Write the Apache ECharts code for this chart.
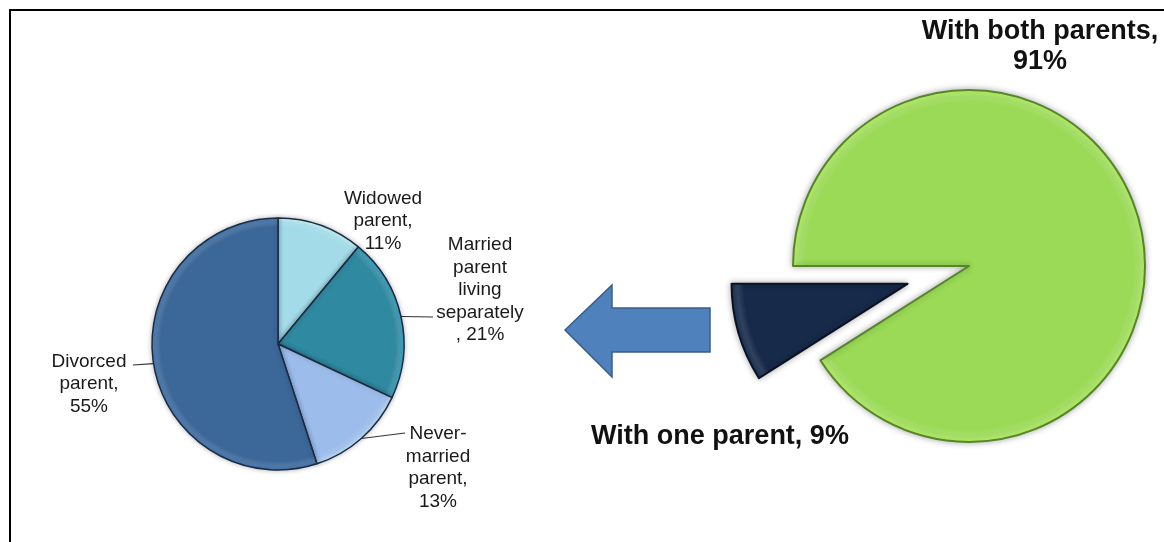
<!DOCTYPE html>
<html>
<head>
<meta charset="utf-8">
<title>Living arrangements of children</title>
<script src="https://cdn.jsdelivr.net/npm/echarts@6/dist/echarts.min.js"></script>
<style>
  html, body { margin: 0; padding: 0; background: #ffffff; }
  #chart { width: 1164px; height: 542px; }
</style>
</head>
<body>
<div id="chart"></div>
<script>
// Breakdown of children living with one parent
const oneParentTypes = ['Widowed\nparent', 'Married\nparent\nliving\nseparately', 'Never-\nmarried\nparent', 'Divorced\nparent'];
const oneParentShares = [11, 21, 13, 55];
// Text placed between the name and the percentage of each label
const oneParentJoiners = [',\n', '\n, ', ',\n', ',\n'];

// Overall split: both parents vs one parent
const householdTypes = ['With both parents', 'With one parent'];
const householdShares = [91, 9];
const householdJoiners = [',\n', ', '];

const FONT = '"Liberation Sans", Arial, Helvetica, sans-serif';

const smallColors = ['#A3DBE9', '#2F89A1', '#9CBDEB', '#3B6799'];
const bigColors = ['#9ADA56', '#172A4A'];
const bigBorders = ['#56852A', '#0A1322'];

// Where each breakdown label sits, and where its leader line ends
const smallLabelPos = [[383, 221], [480, 290], [438, 468], [89, 384]];
const smallLineEnd = [null, [433, 317], [405, 433], [133, 365]];
const bigLabelPos = [[1040, 47], [720, 437]];

const smallCenter = [278, 344];
const smallRadius = 126;

// Big pie geometry; the one-parent slice is pulled out along its mid-angle
const bigCenter = [969, 266];
const bigRadius = 176;
const explode = 64;

function midAngleDeg(values, idx, startDeg) {
  const total = values.reduce((a, b) => a + b, 0);
  let before = 0;
  for (let k = 0; k < idx; k++) before += values[k];
  const mid = before + values[idx] / 2;
  return startDeg - mid / total * 360; // clockwise from start
}
const navyMid = midAngleDeg(householdShares, 1, 180) * Math.PI / 180;
const navyCenter = [
  bigCenter[0] + explode * Math.cos(navyMid),
  bigCenter[1] - explode * Math.sin(navyMid)
];

// Soft bevel: flat fill with a lighter band just inside the rim and a darker edge
function bevel(center, r, color) {
  return {
    type: 'radial', global: true,
    x: center[0], y: center[1], r: r,
    colorStops: [
      { offset: 0, color: color },
      { offset: 0.93, color: color },
      { offset: 0.965, color: echarts.color.lift(color, 0.12) },
      { offset: 1, color: echarts.color.lift(color, -0.25) }
    ]
  };
}

function bigSeries(showIdx, center) {
  return {
    name: householdTypes[showIdx],
    type: 'pie',
    center: center,
    radius: bigRadius,
    startAngle: 180,
    clockwise: true,
    avoidLabelOverlap: false,
    silent: true,
    data: householdTypes.map((n, i) => ({
      name: n,
      value: householdShares[i],
      itemStyle: i === showIdx
        ? { color: bevel(center, bigRadius, bigColors[i]), borderColor: bigBorders[i], borderWidth: 2,
            shadowBlur: 6, shadowColor: 'rgba(0,0,0,0.3)' }
        : { color: 'rgba(0,0,0,0)', borderWidth: 0 },
      label: { show: i === showIdx }
    })),
    label: {
      show: true,
      position: 'outside',
      color: '#111111',
      fontFamily: FONT,
      fontSize: 27,
      fontWeight: 'bold',
      lineHeight: 30,
      align: 'center',
      formatter: p => p.name + householdJoiners[p.dataIndex] + p.value + '%'
    },
    labelLine: { show: false },
    labelLayout: params => {
      const pos = bigLabelPos[params.dataIndex];
      return { x: pos[0], y: pos[1], align: 'center', verticalAlign: 'middle' };
    },
    emphasis: { disabled: true }
  };
}

const chart = echarts.init(document.getElementById('chart'), null, { renderer: 'canvas' });

const option = {
  backgroundColor: '#ffffff',
  animation: false,
  graphic: [
    {
      type: 'rect',
      shape: { x: 10, y: 10, width: 1300, height: 700 },
      style: { fill: 'none', stroke: '#000000', lineWidth: 2 },
      z: 0
    },
    {
      // Arrow pointing from the one-parent slice to its breakdown
      type: 'polygon',
      shape: {
        points: [[565, 330], [612, 285], [612, 308], [710, 308], [710, 352], [612, 352], [612, 377]]
      },
      style: { fill: '#4F81BD', stroke: '#385D8A', lineWidth: 1.5 },
      z: 1
    }
  ],
  series: [
    {
      name: 'One parent',
      type: 'pie',
      center: smallCenter,
      radius: smallRadius,
      startAngle: 90,
      clockwise: true,
      avoidLabelOverlap: false,
      silent: true,
      data: oneParentTypes.map((n, i) => ({
        name: n,
        value: oneParentShares[i],
        itemStyle: { color: bevel(smallCenter, smallRadius, smallColors[i]) },
        labelLine: { show: i !== 0 }
      })),
      itemStyle: {
        borderColor: '#1B2B44',
        borderWidth: 1.5,
        shadowBlur: 5,
        shadowColor: 'rgba(0,0,0,0.25)'
      },
      label: {
        show: true,
        position: 'outside',
        color: '#1a1a1a',
        fontFamily: FONT,
        fontSize: 19,
        lineHeight: 22.5,
        align: 'center',
        formatter: p => p.name + oneParentJoiners[p.dataIndex] + p.value + '%'
      },
      labelLine: {
        show: true,
        lineStyle: { color: '#333333', width: 1.2 }
      },
      labelLayout: params => {
        const i = params.dataIndex;
        const pos = smallLabelPos[i];
        const out = { x: pos[0], y: pos[1], align: 'center', verticalAlign: 'middle' };
        const end = smallLineEnd[i];
        if (end && params.labelLinePoints) {
          const start = params.labelLinePoints[0];
          out.labelLinePoints = [start, end, end];
        }
        return out;
      },
      emphasis: { disabled: true }
    },
    bigSeries(0, bigCenter),
    bigSeries(1, navyCenter)
  ]
};

chart.setOption(option);
</script>
</body>
</html>
